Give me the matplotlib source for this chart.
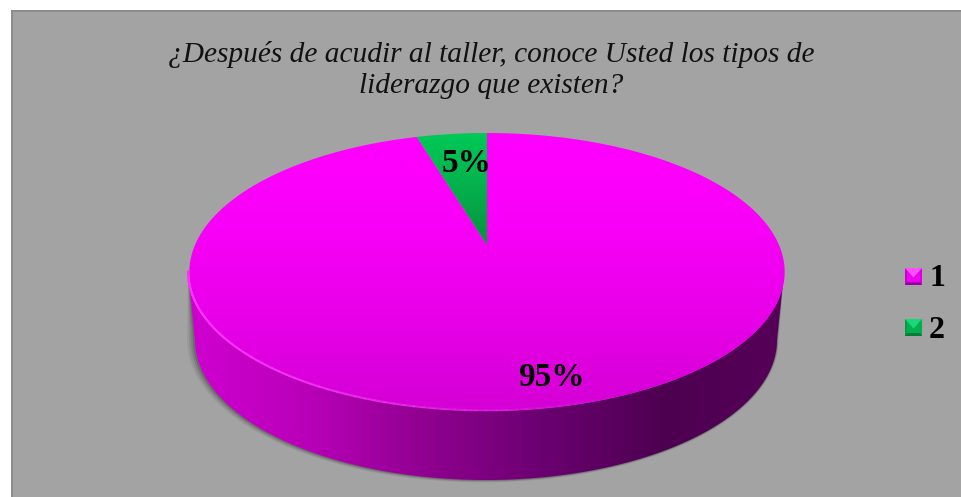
import numpy as np
import matplotlib
matplotlib.use("Agg")
import matplotlib.pyplot as plt
from matplotlib.patches import Polygon, Rectangle
from matplotlib.colors import LinearSegmentedColormap

plt.rcParams["font.family"] = ["Liberation Serif", "DejaVu Serif"]

title_lines = ["¿Después de acudir al taller, conoce Usted los tipos de",
               "liderazgo que existen?"]
categories = ["1", "2"]
shares = [95, 5]

W, H = 961, 497
bg = "#a3a3a3"

# Apex of the slices and perspective of the disc
apex_x, apex_y = 487, 245
A, B, p = 292, 133.7, 0.194
depth = 68
angle_scale = 0.92  # far side of the disc is foreshortened


def rim(theta):
    # theta anticlockwise from the far point of the disc
    u, v = -np.sin(theta), np.cos(theta)
    d = 1 + p * v
    return apex_x + A * u / d, apex_y - B * v / d


def gradient(ax, extent, colors, clip, horizontal=False, zorder=2):
    cmap = LinearSegmentedColormap.from_list("g", colors)
    grad = np.linspace(0, 1, 256)
    grad = grad.reshape(1, -1) if horizontal else grad.reshape(-1, 1)
    im = ax.imshow(grad, cmap=cmap, extent=extent, aspect="auto", zorder=zorder,
                   interpolation="bilinear")
    patch = Polygon(clip, closed=True, transform=ax.transData, fc="none", ec="none")
    ax.add_patch(patch)
    im.set_clip_path(patch)


fig = plt.figure(figsize=(W / 100, H / 100), dpi=100, facecolor="white")
ax = fig.add_axes([0, 0, 1, 1])
ax.set_xlim(0, W)
ax.set_ylim(H, 0)
ax.axis("off")

# Chart area with its darker top and left edges
ax.add_patch(Rectangle((11, 10), W - 11, H - 10, fc=bg, ec="none", zorder=0))
ax.add_patch(Rectangle((11, 10), W - 11, 1.5, fc="#8c8c8c", ec="none", zorder=1))
ax.add_patch(Rectangle((11, 10), 2, H - 10, fc="#8c8c8c", ec="none", zorder=1))

total = sum(shares)
split = 2 * np.pi * shares[1] / total * angle_scale

# Side wall: front half of the disc swept down by depth, slightly narrower
cx, cy = 486, 272
phi = np.linspace(0, np.pi, 361)
top_x = cx + 298 * np.cos(phi)
top_y = cy + 139 * np.sin(phi)
low_x = cx + 291 * np.cos(phi)
low_y = cy + depth + 140 * np.sin(phi)
wall = np.column_stack([np.r_[top_x, low_x[::-1]], np.r_[top_y, low_y[::-1]]])

# Soft shadow round the wall
for grow, alpha in zip([8, 6, 4, 2], [0.06, 0.08, 0.11, 0.15]):
    sx = cx + (291 + grow * 0.6) * np.cos(phi) - grow * 0.4
    sy = cy + depth + (140 + grow * 0.3) * np.sin(phi)
    shadow = np.column_stack([np.r_[top_x, sx[::-1]], np.r_[top_y, sy[::-1]]])
    ax.add_patch(Polygon(shadow, closed=True, fc="black", ec="none", alpha=alpha, zorder=1.5))

gradient(ax, (188, 784, 480, 272),
         ["#d000d0", "#b800b8", "#8f008f", "#6a0070", "#4d0050", "#550058"],
         wall, horizontal=True, zorder=2)

# Top face of the disc
pink_t = np.linspace(split, 2 * np.pi, 600)
px, py = rim(pink_t)
pink = np.column_stack([np.r_[apex_x, px], np.r_[apex_y, py]])
gradient(ax, (180, 790, 411, 133), ["#ff00ff", "#f800f8", "#e800e8", "#d400d4"],
         pink, zorder=3)

green_t = np.linspace(0, split, 60)
gx, gy = rim(green_t)
green = np.column_stack([np.r_[apex_x, gx], np.r_[apex_y, gy]])
gradient(ax, (400, 500, 245, 133), ["#00c957", "#04b04c", "#089040"], green, zorder=3)

# Bright lip along the front left of the disc
n = len(phi)
start = n // 2 - 60
for i in range(start, n - 1, 4):
    frac = (i - start) / (n - start)
    ax.plot(top_x[i:i + 5], top_y[i:i + 5] - 0.6, color="#ff30ff", lw=1.6,
            alpha=min(1, frac * 1.3), solid_capstyle="round", zorder=4)

# Percentage labels from the shares
ax.text(467, 164, f"{shares[1] * 100 / total:.0f}%", ha="center", va="center",
        fontsize=24, fontweight="bold", color="black", zorder=6)
ax.text(551, 378, f"{shares[0] * 100 / total:.0f}%", ha="center", va="center",
        fontsize=24, fontweight="bold", color="black", zorder=6)

# Title
ax.text(491, 54, title_lines[0], ha="center", va="center", fontsize=21.2,
        fontstyle="italic", color="#111111", zorder=6)
ax.text(491, 86, title_lines[1], ha="center", va="center", fontsize=21.2,
        fontstyle="italic", color="#111111", zorder=6)

# Legend with bevelled keys
legend_y = [276.5, 327.5]
key_colors = [("#f000f0", "#ff50ff", "#9c00a4", "#c800d0", "#d800e0"),
              ("#00b050", "#18d878", "#057a3a", "#059c48", "#08a850")]
s = 8.5
for label, yk, (mid, hi, lo, left, right) in zip(categories, legend_y, key_colors):
    xk = 913.5
    tl, tr = (xk - s, yk - s), (xk + s, yk - s)
    bl, br = (xk - s, yk + s), (xk + s, yk + s)
    ax.add_patch(Rectangle(tl, 2 * s, 2 * s, fc=mid, ec="none", zorder=5))
    ax.add_patch(Polygon([tl, (xk - s + 2, yk - s + 2), (xk - s + 2, yk + s - 3), bl],
                         fc=left, ec="none", zorder=5))
    ax.add_patch(Polygon([tr, (xk + s - 2, yk - s + 2), (xk + s - 2, yk + s - 3), br],
                         fc=right, ec="none", zorder=5))
    ax.add_patch(Polygon([bl, br, (xk + s - 2, yk + s - 3), (xk - s + 2, yk + s - 3)],
                         fc=lo, ec="none", zorder=5))
    ax.add_patch(Polygon([tl, tr, (xk, yk + 1)], fc=hi, ec="none", zorder=5))
    ax.text(929, yk + 2.5, label, ha="left", va="center", fontsize=23,
            fontweight="bold", color="black", zorder=6)

fig.savefig("out.png", dpi=100)
